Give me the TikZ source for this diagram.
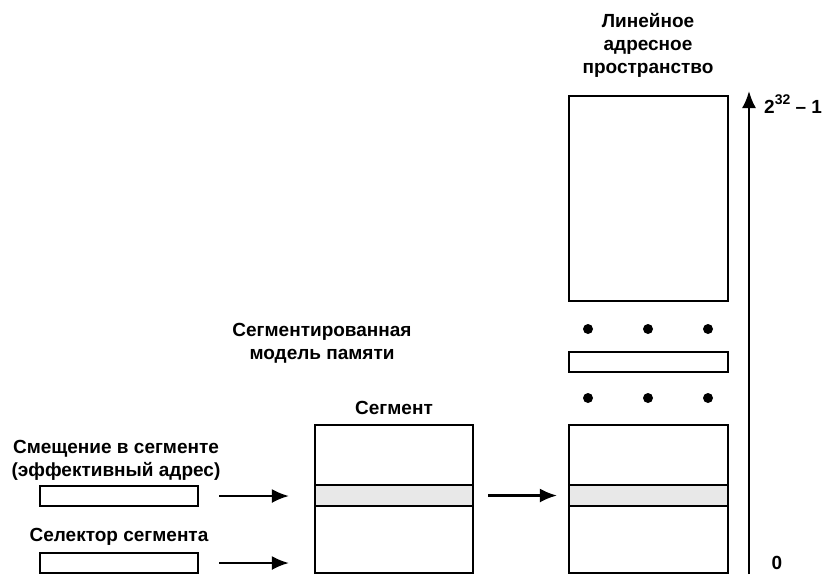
\documentclass[tikz,border=0pt]{standalone}
\usepackage{fontspec}
\setmainfont{Liberation Sans}
\usetikzlibrary{arrows.meta}

\begin{document}
\begin{tikzpicture}
[x=1pt, y=-1pt,
cell/.style={rectangle, draw=black, fill=white, line width=2.2pt, minimum width=159pt, inner sep=0pt},
band/.style={rectangle, draw=black, fill=gray!18, line width=2.2pt, minimum width=159pt, minimum height=21pt, inner sep=0pt},
slot/.style={rectangle, draw=black, fill=white, line width=2.2pt, minimum width=158pt, minimum height=20pt, inner sep=0pt},
blackdot/.style={circle, fill=black, minimum size=10pt, inner sep=0pt},
textbox/.style={align=center, inner sep=0pt, font=\fontsize{19}{23}\selectfont\bfseries},
myarrow/.style={-{Latex[length=17pt,width=14pt]}, line width=2.2pt}
]
\useasboundingbox (0,0) rectangle (834,574);

%linear address space
\node at (648,45) [textbox] (tlin) {Линейное\\адресное\\пространство};
\node at (648.5,198.5) [cell, minimum height=205pt] (lintop) {};
\foreach \x in {588,648,708} {
  \node at (\x,329) [blackdot] (da\x) {};
  \node at (\x,398) [blackdot] (db\x) {};
}
\node at (648.5,362) [cell, minimum height=20pt] (linmid) {};
\node at (648.5,499) [cell, minimum height=148pt] (linseg) {};
\node at (648.5,495.5) [band] (linband) {};

%axis
\coordinate (axbot) at (749,574);
\coordinate (axtop) at (749,91);
\draw[myarrow] (axbot) -- (axtop);
\node[anchor=west, font=\fontsize{21}{25}\selectfont\bfseries] at (764,104) [textbox] (tmax) {2\raisebox{0.45em}{\fontsize{14}{14}\selectfont 32} – 1};
\node at (777,563) [textbox] (tzero) {0};

%segment
\node at (322,343) [textbox] (tmodel) {Сегментированная\\модель памяти};
\node at (394,408) [textbox] (tseg) {Сегмент};
\node at (394,499) [cell, minimum width=158pt, minimum height=148pt] (seg) {};
\node at (394,495.5) [band, minimum width=158pt] (segband) {};

%logical address
\node at (116,460) [textbox] (toffset) {Смещение в сегменте\\(эффективный адрес)};
\node at (119,496) [slot] (offset) {};
\node at (119,537) [textbox] (tsel) {Селектор сегмента};
\node at (119,563) [slot] (selector) {};

\draw[myarrow, shorten <=20pt, shorten >=25pt] (offset.east) -- (offset.east -| seg.west);
\draw[myarrow, shorten <=20pt, shorten >=25pt] (selector.east) -- (selector.east -| seg.west);
\draw[myarrow, shorten <=14pt, shorten >=11pt] (segband.east) -- (linband.west);

\end{tikzpicture}
\end{document}
